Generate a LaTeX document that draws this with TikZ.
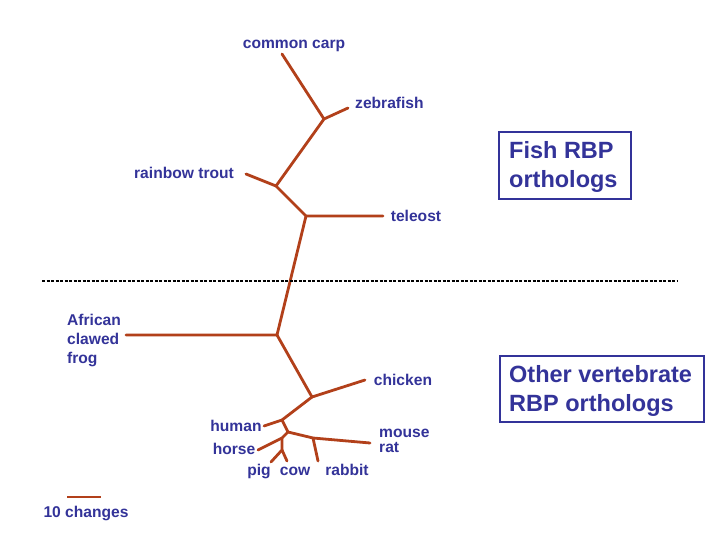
\documentclass[tikz,border=0pt]{standalone}
\usepackage{fontspec}
\setmainfont{Liberation Sans}
\definecolor{treecol}{RGB}{178,64,26}
\definecolor{txtcol}{RGB}{51,51,153}
\tikzset{
  branch/.style={draw=treecol, line width=2.8pt, line cap=round, line join=round},
  lbl/.style={text=txtcol, font=\bfseries\fontsize{15.6}{18}\selectfont, inner sep=0pt, anchor=base},
  lblw/.style={lbl, anchor=base west},
  boxtxt/.style={text=txtcol, font=\bfseries\fontsize{23.5}{28}\selectfont, inner sep=0pt, anchor=base west},
  groupbox/.style={draw=txtcol, line width=1.5pt},
  sepline/.style={draw=black, line width=1.6pt, dash pattern=on 3pt off 1.5pt}
}
\begin{document}
\begin{tikzpicture}[x=1pt,y=-1pt]
\useasboundingbox[fill=white] (0,0) rectangle (720,540);
% tree coordinates
\coordinate (carp) at (282,54);
\coordinate (nCZ) at (324,119);
\coordinate (zebra) at (348,108);
\coordinate (nTr) at (276,186);
\coordinate (trout) at (246,174);
\coordinate (nTel) at (306,216);
\coordinate (tel) at (383,216);
\coordinate (nFrog) at (277,335);
\coordinate (frog) at (126,335);
\coordinate (nChk) at (312,397);
\coordinate (chk) at (365,380);
\coordinate (nHum) at (282,420);
\coordinate (hum) at (264,426);
\coordinate (nMam) at (288,432);
\coordinate (nHP) at (282,438);
\coordinate (horse) at (258,450);
\coordinate (nPC) at (282,450);
\coordinate (pig) at (271,462);
\coordinate (cow) at (287,461);
\coordinate (nRab) at (313,438);
\coordinate (rab) at (318,461);
\coordinate (mouse) at (370,443);
% branches
\draw[branch] (carp) -- (nCZ) -- (zebra);
\draw[branch] (nCZ) -- (nTr) -- (trout);
\draw[branch] (nTr) -- (nTel) -- (tel);
\draw[branch] (nTel) -- (nFrog) -- (frog);
\draw[branch] (nFrog) -- (nChk) -- (chk);
\draw[branch] (nChk) -- (nHum) -- (hum);
\draw[branch] (nHum) -- (nMam) -- (nHP) -- (horse);
\draw[branch] (nHP) -- (nPC) -- (pig);
\draw[branch] (nPC) -- (cow);
\draw[branch] (nMam) -- (nRab) -- (mouse);
\draw[branch] (nRab) -- (rab);
% separator
\coordinate (sepL) at (42,281);
\coordinate (sepR) at (678,281);
\draw[sepline] (sepL) -- (sepR);
% labels
\node[lbl] (lcarp) at (294,49) {common carp};
\node[lblw] (lzebra) at (355,109) {zebrafish};
\node[lbl] (ltrout) at (184,179) {rainbow trout};
\node[lbl] (ltel) at (416,222) {teleost};
\node[lblw] (lfrog1) at (67,325) {African};
\node[lblw] (lfrog2) at (67,344) {clawed};
\node[lblw] (lfrog3) at (67,363) {frog};
\node[lbl] (lchk) at (403,385) {chicken};
\node[lbl] (lhum) at (236,431) {human};
\node[lbl] (lhorse) at (234,454) {horse};
\node[lbl] (lpig) at (259,475) {pig};
\node[lbl] (lcow) at (295,475) {cow};
\node[lbl] (lrab) at (347,475) {rabbit};
\node[lblw] (lmouse) at (379,437) {mouse};
\node[lblw] (lrat) at (379,452) {rat};
% scale bar
\coordinate (sb1) at (67,497);
\coordinate (sb2) at (101,497);
\draw[draw=treecol, line width=2pt] (sb1) -- (sb2);
\node[lbl] (lscale) at (86,517) {10 changes};
% boxes
\draw[groupbox] (499,132) rectangle (631,199);
\node[boxtxt] (fish1) at (509,159) {Fish RBP};
\node[boxtxt] (fish2) at (509,188) {orthologs};
\draw[groupbox] (500,356) rectangle (704,422);
\node[boxtxt] (oth1) at (509,382) {Other vertebrate};
\node[boxtxt] (oth2) at (509,411) {RBP orthologs};
\end{tikzpicture}
\end{document}
